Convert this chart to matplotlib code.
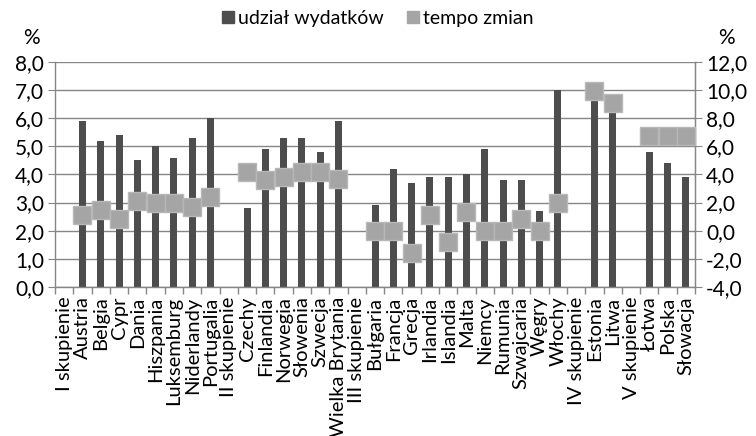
import matplotlib
matplotlib.use("Agg")
import matplotlib.pyplot as plt
from matplotlib.ticker import FuncFormatter, FixedLocator
from matplotlib.lines import Line2D
import numpy as np

plt.rcParams['font.family'] = ['Lato', 'DejaVu Sans']

# --- Data ---
categories = [
    "I skupienie", "Austria", "Belgia", "Cypr", "Dania", "Hiszpania", "Luksemburg",
    "Niderlandy", "Portugalia", "II skupienie", "Czechy", "Finlandia", "Norwegia",
    "Słowenia", "Szwecja", "Wielka Brytania", "III skupienie", "Bułgaria", "Francja",
    "Grecja", "Irlandia", "Islandia", "Malta", "Niemcy", "Rumunia", "Szwajcaria",
    "Węgry", "Włochy", "IV skupienie", "Estonia", "Litwa", "V skupienie", "Łotwa",
    "Polska", "Słowacja",
]
# udział wydatków (left axis), None for cluster headers
share = [
    None, 5.9, 5.2, 5.4, 4.5, 5.0, 4.6, 5.3, 6.0,
    None, 2.8, 4.9, 5.3, 5.3, 4.8, 5.9,
    None, 2.9, 4.2, 3.7, 3.9, 3.9, 4.0, 4.9, 3.8, 3.8, 2.7, 7.0,
    None, 6.9, 6.4,
    None, 4.8, 4.4, 3.9,
]
# tempo zmian (right axis)
change = [
    None, 1.1, 1.5, 0.8, 2.1, 2.0, 2.0, 1.7, 2.4,
    None, 4.2, 3.6, 3.8, 4.2, 4.2, 3.7,
    None, 0.0, 0.0, -1.6, 1.1, -0.8, 1.3, 0.0, 0.0, 0.8, 0.0, 2.0,
    None, 9.9, 9.1,
    None, 6.7, 6.7, 6.7,
]

bar_color = "#4d4d4d"
mark_color = "#a5a5a5"
grid_color = "#868686"

fmt = FuncFormatter(lambda v, p: f"{v:.1f}".replace(".", ","))

fig = plt.figure(figsize=(7.56, 4.36), dpi=100)
ax = fig.add_axes([0.0728, 0.342, 0.8466, 0.516])

x = np.arange(len(categories))
bx = [i for i, v in zip(x, share) if v is not None]
bv = [v for v in share if v is not None]
ax.bar(bx, bv, width=0.38, color=bar_color, zorder=2)

ax.set_xlim(-0.5, len(categories) - 0.5)
ax.set_ylim(0, 8)
ax.set_yticks(np.arange(0, 8.1, 1))
ax.yaxis.set_major_formatter(fmt)
ax.grid(axis="y", color=grid_color, linewidth=1, zorder=0)
ax.set_axisbelow(True)

ax.set_xticks(x)
ax.set_xticklabels(categories, rotation=90, fontsize=14.5)
ax.tick_params(axis="x", length=0, pad=7)
ax.xaxis.set_minor_locator(FixedLocator(np.arange(-0.5, len(categories), 1)))
ax.tick_params(axis="x", which="minor", length=5, color=grid_color, width=1)
ax.tick_params(axis="y", labelsize=15, length=5, color=grid_color, pad=3)

for s in ["top"]:
    ax.spines[s].set_visible(False)
for s in ["left", "right", "bottom"]:
    ax.spines[s].set_color(grid_color)
    ax.spines[s].set_linewidth(1)

ax2 = ax.twinx()
ax2.set_ylim(-4, 12)
ax2.set_yticks(np.arange(-4, 12.1, 2))
ax2.yaxis.set_major_formatter(fmt)
ax2.tick_params(axis="y", labelsize=15, length=5, color=grid_color, pad=3)
for s in ["top", "left", "bottom"]:
    ax2.spines[s].set_visible(False)
ax2.spines["right"].set_color(grid_color)

mx = [i for i, v in zip(x, change) if v is not None]
mv = [v for v in change if v is not None]
ax2.plot(mx, mv, linestyle="none", marker="s", markersize=12.5,
         markerfacecolor=mark_color, markeredgecolor="#b8b8b8",
         markeredgewidth=1, zorder=3, clip_on=False)

fig.text(0.042, 0.912, "%", fontsize=15, ha="center", va="center")
fig.text(0.961, 0.912, "%", fontsize=15, ha="center", va="center")

handles = [
    Line2D([], [], linestyle="none", marker="s", markersize=9, color=bar_color),
    Line2D([], [], linestyle="none", marker="s", markersize=9, color=mark_color),
]
fig.legend(handles, ["udział wydatków", "tempo zmian"], loc="center",
           bbox_to_anchor=(0.497, 0.958), ncol=2, frameon=False, fontsize=14,
           handletextpad=0.0, columnspacing=1.0, handlelength=1.0)

fig.savefig("out.png", dpi=100)
